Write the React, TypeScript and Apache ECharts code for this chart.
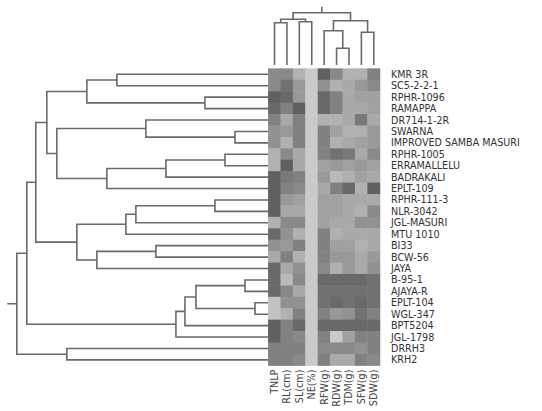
import React, { useEffect, useRef } from "react";
import * as echarts from "echarts";

// Genotypes in dendrogram leaf order (top to bottom)
const genotypes = [
  "KMR 3R", "SC5-2-2-1", "RPHR-1096", "RAMAPPA", "DR714-1-2R", "SWARNA",
  "IMPROVED SAMBA MASURI", "RPHR-1005", "ERRAMALLELU", "BADRAKALI", "EPLT-109",
  "RPHR-111-3", "NLR-3042", "JGL-MASURI", "MTU 1010", "BI33", "BCW-56", "JAYA",
  "B-95-1", "AJAYA-R", "EPLT-104", "WGL-347", "BPT5204", "JGL-1798", "DRRH3", "KRH2",
];

// Traits in dendrogram leaf order (left to right)
const traits = ["TNLP", "RL(cm)", "SL(cm)", "NE(%)", "RFW(g)", "RDW(g)", "TDM(g)", "SFW(g)", "SDW(g)"];

// Scaled trait values per genotype (0 = low, 1 = high)
const tnlp = [0.55, 0.55, 0.8, 0.75, 0.6, 0.5, 0.5, 0.3, 0.3, 0.8, 0.8, 0.8, 0.8, 0.3, 0.75, 0.5, 0.35, 0.75, 0.75, 0.75, 0.2, 0.2, 0.8, 0.8, 0.6, 0.6];
const rl = [0.55, 0.7, 0.75, 0.6, 0.35, 0.45, 0.3, 0.55, 0.8, 0.65, 0.6, 0.45, 0.35, 0.55, 0.5, 0.45, 0.6, 0.35, 0.25, 0.55, 0.5, 0.3, 0.6, 0.6, 0.6, 0.6];
const sl = [0.3, 0.45, 0.45, 0.8, 0.6, 0.6, 0.6, 0.35, 0.35, 0.6, 0.55, 0.4, 0.35, 0.55, 0.3, 0.6, 0.3, 0.5, 0.55, 0.35, 0.5, 0.6, 0.75, 0.55, 0.6, 0.55];
const ne = [0.15, 0.15, 0.15, 0.15, 0.15, 0.15, 0.15, 0.15, 0.15, 0.15, 0.15, 0.15, 0.15, 0.15, 0.15, 0.15, 0.15, 0.15, 0.15, 0.15, 0.15, 0.15, 0.15, 0.15, 0.15, 0.15];
const rfw = [0.8, 0.5, 0.75, 0.75, 0.3, 0.6, 0.6, 0.6, 0.4, 0.45, 0.35, 0.4, 0.4, 0.4, 0.6, 0.6, 0.6, 0.55, 0.75, 0.7, 0.7, 0.6, 0.75, 0.6, 0.55, 0.6];
const rdw = [0.55, 0.3, 0.6, 0.6, 0.3, 0.4, 0.3, 0.7, 0.45, 0.25, 0.6, 0.4, 0.4, 0.35, 0.3, 0.4, 0.45, 0.3, 0.75, 0.7, 0.75, 0.45, 0.75, 0.15, 0.55, 0.35];
const tdm = [0.3, 0.35, 0.35, 0.35, 0.35, 0.3, 0.35, 0.65, 0.4, 0.3, 0.75, 0.35, 0.35, 0.35, 0.35, 0.4, 0.45, 0.45, 0.75, 0.7, 0.7, 0.5, 0.75, 0.4, 0.55, 0.35];
const sfw = [0.3, 0.45, 0.4, 0.35, 0.65, 0.3, 0.4, 0.35, 0.45, 0.4, 0.3, 0.35, 0.3, 0.5, 0.35, 0.3, 0.35, 0.35, 0.75, 0.7, 0.75, 0.7, 0.75, 0.6, 0.5, 0.6];
const sdw = [0.6, 0.55, 0.4, 0.4, 0.35, 0.45, 0.45, 0.55, 0.4, 0.35, 0.8, 0.35, 0.55, 0.5, 0.35, 0.35, 0.45, 0.5, 0.7, 0.7, 0.7, 0.6, 0.75, 0.6, 0.6, 0.55];
const traitColumns = [tnlp, rl, sl, ne, rfw, rdw, tdm, sfw, sdw];

// Row linkage: [child A, child B, distance]; indices >= 26 refer to earlier merges (26 + k)
const rowLinkage: [number, number, number][] = [
  [0, 1, 15.1], [2, 3, 6.3], [26, 27, 18.1], [5, 6, 3.3], [4, 29, 12.2],
  [7, 8, 4.3], [31, 9, 10.2], [32, 10, 16.1], [30, 33, 21.1], [28, 34, 22.1],
  [11, 12, 5.3], [36, 13, 13.2], [37, 14, 14.2], [15, 16, 11.2], [39, 17, 17.1],
  [38, 40, 19.1], [35, 41, 23.2], [18, 19, 2.3], [20, 21, 1.3], [43, 44, 7.2],
  [45, 22, 8.3], [46, 23, 9.2], [42, 47, 24.1], [24, 25, 20.1], [48, 49, 25.1],
];

// Column linkage: indices >= 9 refer to earlier merges (9 + k)
const colLinkage: [number, number, number][] = [
  [0, 1, 4.23], [2, 3, 4.33], [9, 10, 4.57], [5, 6, 1.67], [4, 12, 3.43],
  [7, 8, 3.27], [13, 14, 4.43], [11, 15, 5.23],
];

type Seg = [number, number, number, number, number];

// Build U-shaped links [nodeHeight, posA, posB, heightA, heightB] from a linkage table
function buildLinks(n: number, linkage: [number, number, number][], stub: number): Seg[] {
  const pos: number[] = [];
  const hgt: number[] = [];
  for (let i = 0; i < n; i++) {
    pos.push(i);
    hgt.push(0);
  }
  const segs: Seg[] = [];
  linkage.forEach(([a, b, h]) => {
    segs.push([h, pos[a], pos[b], hgt[a], hgt[b]]);
    pos.push((pos[a] + pos[b]) / 2);
    hgt.push(h);
  });
  const root = pos.length - 1;
  segs.push([hgt[root] + stub, pos[root], pos[root], hgt[root], hgt[root]]);
  return segs;
}

const LINE = { stroke: "#6a6a6a", lineWidth: 1.6, fill: "none" };
const LABEL_FONT = "DejaVu Sans";

function dendroSeries(segs: Seg[], horizontal: boolean, idx: number) {
  return {
    type: "custom",
    xAxisIndex: idx,
    yAxisIndex: idx,
    silent: true,
    clip: false,
    data: segs,
    renderItem: (_p: any, api: any) => {
      const h = api.value(0), a = api.value(1), b = api.value(2), ha = api.value(3), hb = api.value(4);
      const pt = (height: number, p: number) => (horizontal ? api.coord([height, p]) : api.coord([p, height]));
      return {
        type: "polyline",
        shape: { points: [pt(ha, a), pt(h, a), pt(h, b), pt(hb, b)] },
        style: LINE,
      };
    },
  };
}

const W = 542;
const H = 411;
const HM_LEFT = 268.3;
const HM_RIGHT = 380;
const HM_TOP = 68.6;
const HM_HEIGHT = 297;
const TOP_DENDRO_TOP = 6.7;
const TOP_DENDRO_BOTTOM = 65;

export default function App() {
  const ref = useRef<HTMLDivElement>(null);

  useEffect(() => {
    if (!ref.current) return;
    const chart = echarts.init(ref.current, undefined, { renderer: "svg" });

    const heatData: [number, number, number][] = [];
    traitColumns.forEach((col, c) => col.forEach((v, r) => heatData.push([c, r, v])));

    const rowSegs = buildLinks(genotypes.length, rowLinkage, 0.95);
    const colSegs = buildLinks(traits.length, colLinkage, 0.6);

    const rowMax = 25.1 + 0.95;
    const colMax = 5.23 + 0.6;

    chart.setOption({
      animation: false,
      backgroundColor: "#ffffff",
      grid: [
        { left: HM_LEFT, top: HM_TOP, width: HM_RIGHT - HM_LEFT, height: HM_HEIGHT },
        { left: 7.3, top: HM_TOP, width: HM_LEFT - 0.3 - 7.3, height: HM_HEIGHT },
        { left: HM_LEFT, top: TOP_DENDRO_TOP, width: HM_RIGHT - HM_LEFT, height: TOP_DENDRO_BOTTOM - TOP_DENDRO_TOP },
      ],
      xAxis: [
        {
          type: "category",
          gridIndex: 0,
          data: traits,
          position: "bottom",
          axisLine: { show: false },
          axisTick: { show: false },
          axisLabel: { interval: 0, rotate: 90, margin: 4, fontSize: 9.6, color: "#444", fontFamily: LABEL_FONT },
        },
        { type: "value", gridIndex: 1, min: 0, max: rowMax, inverse: true, show: false },
        { type: "value", gridIndex: 2, min: -0.5, max: traits.length - 0.5, show: false },
      ],
      yAxis: [
        {
          type: "category",
          gridIndex: 0,
          data: genotypes,
          inverse: true,
          position: "right",
          axisLine: { show: false },
          axisTick: { show: false },
          axisLabel: {
            interval: 0,
            margin: 11,
            fontSize: 9.6,
            color: "#333",
            fontFamily: LABEL_FONT,
            align: "left",
          },
        },
        { type: "value", gridIndex: 1, min: -0.5, max: genotypes.length - 0.5, inverse: true, show: false },
        { type: "value", gridIndex: 2, min: 0, max: colMax, show: false },
      ],
      visualMap: {
        show: false,
        min: 0,
        max: 1,
        seriesIndex: 0,
        inRange: { color: ["#e2e2e2", "#404040"] },
      },
      series: [
        {
          type: "heatmap",
          xAxisIndex: 0,
          yAxisIndex: 0,
          data: heatData,
          itemStyle: { borderWidth: 0 },
          emphasis: { disabled: true },
        },
        dendroSeries(rowSegs, true, 1),
        dendroSeries(colSegs, false, 2),
      ],
    });

    return () => chart.dispose();
  }, []);

  return (
    <div
      ref={ref}
      style={{ position: "fixed", left: 0, top: 0, width: W, height: H, background: "#fff" }}
    />
  );
}
